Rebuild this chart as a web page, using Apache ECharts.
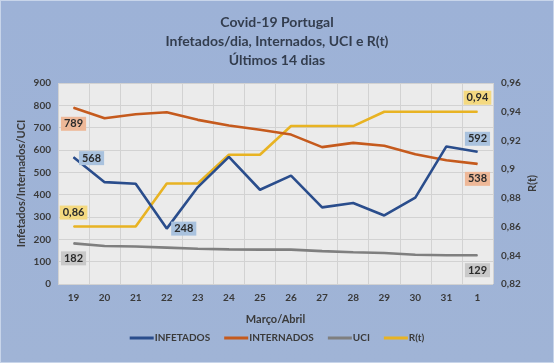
<!DOCTYPE html>
<html>
<head>
<meta charset="utf-8">
<script src="https://cdn.jsdelivr.net/npm/echarts@6/dist/echarts.min.js"></script>
<style>
html,body{margin:0;padding:0;background:#fff;}
#c{width:552px;height:361px;border:1px solid #c8d5ea;background:linear-gradient(180deg,#9db2d7 0%,#a0b4d6 100%);}
</style>
</head>
<body>
<div id="c"></div>
<script>
var categories = ['19','20','21','22','23','24','25','26','27','28','29','30','31','1'];
var infetados  = [568, 456, 449, 248, 434, 569, 422, 485, 343, 363, 307, 387, 616, 592];
var internados = [789, 742, 760, 769, 735, 710, 691, 669, 613, 632, 619, 581, 554, 538];
var uci        = [182, 170, 168, 163, 158, 155, 154, 154, 147, 142, 139, 131, 129, 129];
var rt         = [0.86, 0.86, 0.86, 0.89, 0.89, 0.91, 0.91, 0.93, 0.93, 0.93, 0.94, 0.94, 0.94, 0.94];
var leftTicks  = {min: 0, max: 900, interval: 100};
var rightTicks = {min: 0.82, max: 0.96, interval: 0.02};

var FONT = 'Lato, "Open Sans", sans-serif';
function comma(v){ return String(+(+v).toFixed(2)).replace('.', ','); }

function withLabels(values, marks, bg, fmt){
  return values.map(function(v, i){
    var m = marks[i];
    if (!m) return v;
    return {
      value: v,
      label: {
        show: true, position: 'inside', offset: m,
        formatter: function(p){ return fmt ? fmt(p.value) : String(p.value); },
        backgroundColor: bg, color: '#2b2b2b', fontFamily: FONT,
        fontSize: 11, fontWeight: 'bold', padding: [2, 3, 1, 3]
      }
    };
  });
}

var last = categories.length - 1;
var mInf = {}; mInf[0] = [18, 1]; mInf[3] = [17, 0]; mInf[last] = [0, -13];
var mInt = {}; mInt[0] = [0, 16]; mInt[last] = [0, 15];
var mUci = {}; mUci[0] = [0, 15]; mUci[last] = [0, 15];
var mRt  = {}; mRt[0] = [0, -14]; mRt[last] = [0, -14];

function lineSeries(name, data, color, yIdx, z){
  return {
    name: name, type: 'line', data: data, yAxisIndex: yIdx, z: z,
    symbol: 'circle', symbolSize: 1, showSymbol: true,
    lineStyle: {color: color, width: 2.6},
    itemStyle: {color: color},
    emphasis: {disabled: true},
    animation: false
  };
}

var chart = echarts.init(document.getElementById('c'));
chart.setOption({
  animation: false,
  title: {
    text: 'Covid-19 Portugal\nInfetados/dia, Internados, UCI e R(t)\nÚltimos 14 dias',
    left: 'center', top: 7,
    textStyle: {fontFamily: FONT, fontSize: 14, fontWeight: 'bold', color: '#333d4e', lineHeight: 19}
  },
  legend: {
    bottom: 14, left: 'center', itemWidth: 24, itemHeight: 3, itemGap: 14,
    icon: 'rect',
    textStyle: {fontFamily: FONT, fontSize: 10, fontWeight: 'bold', color: '#3a3a3a', padding: [0,0,0,-4]},
    data: ['INFETADOS','INTERNADOS','UCI','R(t)']
  },
  grid: {left: 57, right: 60, top: 82, bottom: 78, show: true, backgroundColor: '#ebebeb', borderWidth: 0},
  xAxis: {
    type: 'category', data: categories, boundaryGap: true,
    name: 'Março/Abril', nameLocation: 'middle', nameGap: 30,
    nameTextStyle: {fontFamily: FONT, fontSize: 11, fontWeight: 'bold', color: '#3a3a3a'},
    axisLine: {show: false}, axisTick: {show: false},
    axisLabel: {fontFamily: FONT, fontSize: 10, fontWeight: 'bold', color: '#3a3a3a', margin: 9},
    splitLine: {show: true, lineStyle: {color: '#d2d2d2', width: 1}}
  },
  yAxis: [{
    type: 'value', min: leftTicks.min, max: leftTicks.max, interval: leftTicks.interval,
    name: 'Infetados/Internados/UCI', nameLocation: 'middle', nameGap: 31, nameRotate: 90,
    nameMoveOverlap: false,
    nameTextStyle: {fontFamily: FONT, fontSize: 11, fontWeight: 'bold', color: '#3a3a3a'},
    axisLine: {show: false}, axisTick: {show: false},
    axisLabel: {fontFamily: FONT, fontSize: 10, fontWeight: 'bold', color: '#3a3a3a', margin: 7},
    splitLine: {show: true, lineStyle: {color: '#d2d2d2', width: 1}}
  }, {
    type: 'value', min: rightTicks.min, max: rightTicks.max, interval: rightTicks.interval,
    name: 'R(t)', nameLocation: 'middle', nameGap: 34, nameRotate: 90,
    nameMoveOverlap: false,
    nameTextStyle: {fontFamily: FONT, fontSize: 11, fontWeight: 'bold', color: '#3a3a3a'},
    axisLine: {show: false}, axisTick: {show: false},
    axisLabel: {fontFamily: FONT, fontSize: 10, fontWeight: 'bold', color: '#3a3a3a', margin: 8,
      formatter: function(v){ return comma(v); }},
    splitLine: {show: false}
  }],
  series: [
    lineSeries('INFETADOS', withLabels(infetados, mInf, '#a9c2de'), '#2a4d8c', 0, 5),
    lineSeries('INTERNADOS', withLabels(internados, mInt, '#eeb898'), '#c55a1d', 0, 4),
    lineSeries('UCI', withLabels(uci, mUci, '#c9c9c9'), '#7f7f7f', 0, 3),
    lineSeries('R(t)', withLabels(rt, mRt, '#f4d980', comma), '#e8b323', 1, 2)
  ]
});
</script>
</body>
</html>
